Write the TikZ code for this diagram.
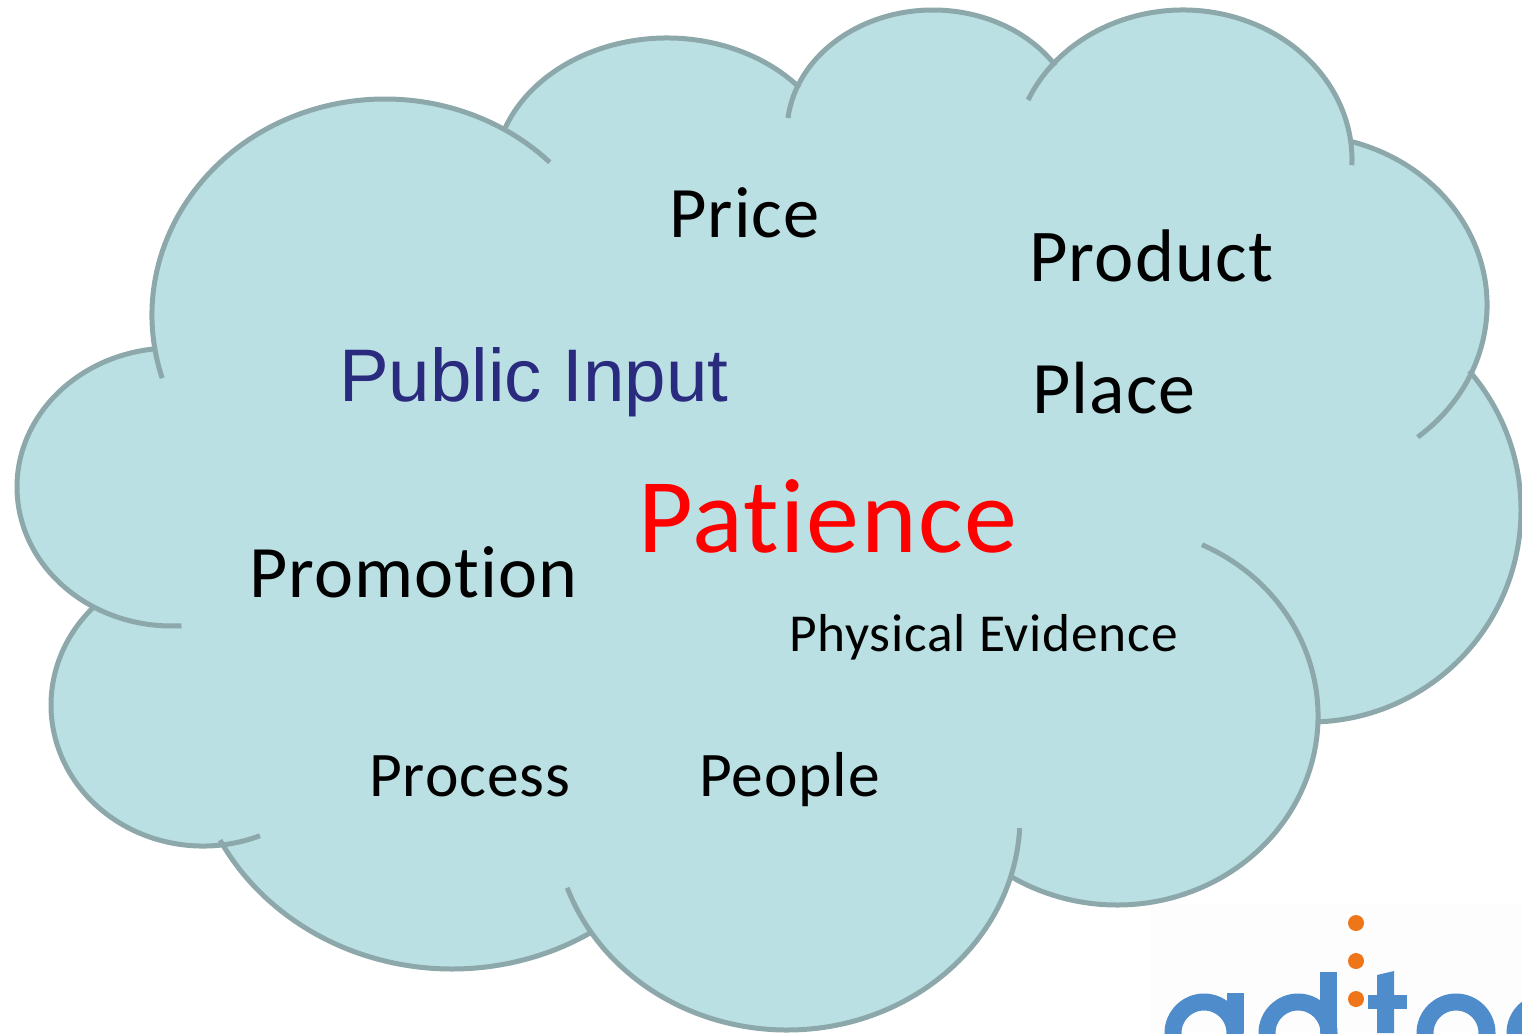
\documentclass[tikz,border=0pt]{standalone}
\usepackage{fontspec}
\setmainfont[LetterSpace=1.5,Ligatures=NoCommon]{Carlito}
\newfontfamily\arialfont{Liberation Sans}
\definecolor{cloudfill}{HTML}{BAE0E3}
\definecolor{cloudline}{HTML}{8CA8AB}
\definecolor{inputblue}{HTML}{2A2A7E}
\definecolor{logoblue}{HTML}{4F8CCB}
\definecolor{logodot}{HTML}{EE7518}
\definecolor{logoback}{HTML}{FDFDFD}
\tikzset{
  word/.style={anchor=base west,inner sep=0pt,text=black},
  lobe/.style={draw=cloudline,line width=5pt},
  logostroke/.style={draw=logoblue,line width=17pt}
}
\begin{document}
\begin{tikzpicture}[x=1pt,y=1pt,yscale=-1]
  \path[use as bounding box] (0,0) rectangle (1522,1033);
  \clip (0,0) rectangle (1522,1033);

  %% logo, cut off by the page
  \fill[logoback] (1150,905) rectangle (1522,1033);
  \begin{scope}
    \draw[logostroke] (1204,1033) circle[radius=31];
    \fill[logoblue] (1227,993) rectangle (1244,1033);
    \draw[logostroke] (1298,1033) circle[radius=31];
    \fill[logoblue] (1320,972) rectangle (1337,1033);
    \fill[logoblue] (1377,975) -- (1394,971) -- (1394,1033) -- (1377,1033) -- cycle;
    \fill[logoblue] (1368,995) rectangle (1407,1009);
    \draw[logostroke] (1456,1033) circle[radius=31];
    \draw[logostroke] (1546,1033) circle[radius=31];
    \foreach \y in {923,961,999}
      \fill[logodot] (1356,\y) circle[radius=8];
  \end{scope}

  %% cloud: one entry per lobe, centre x/centre y/x radius/y radius/start/end
  \fill[cloudfill] (400,300) -- (900,150) -- (1250,200) -- (1350,500)
    -- (1150,800) -- (700,900) -- (250,750) -- (150,500) -- cycle;
  \foreach \cx/\cy/\rx/\ry/\sa/\ea in {
      385/315/233/216/163/315,
      667/177/173/139/200.6/320,
      933/132/146/122/186.6/327,
      1183/160/169/150/203.6/362,
      1300/305/187/170/286/411,
      1310/510/211/212/319/448,
      1117/716/201/189/295/482,
      787/817/233/213/3/160.6,
      452/731/261/238/58/152.7,
      203/705/152/141/68/224,
      172/487/155/139/86.5/263}
    \fill[cloudfill] (\cx,\cy) ellipse[x radius=\rx,y radius=\ry];
  \foreach \cx/\cy/\rx/\ry/\sa/\ea in {
      385/315/233/216/163/315,
      667/177/173/139/200.6/320,
      933/132/146/122/186.6/327,
      1183/160/169/150/203.6/362,
      1300/305/187/170/286/411,
      1310/510/211/212/319/448,
      1117/716/201/189/295/482,
      787/817/233/213/3/160.6,
      452/731/261/238/58/152.7,
      203/705/152/141/68/224,
      172/487/155/139/86.5/263}
    \draw[lobe] ({\cx+\rx*cos(\sa)},{\cy+\ry*sin(\sa)}) arc[start angle=\sa,end angle=\ea,x radius=\rx,y radius=\ry];

  %% words
  \node[word] (price) at (669,237) {\fontsize{72.5}{80}\selectfont Price};
  \node[word] (product) at (1029,281) {\fontsize{74.5}{80}\selectfont Product};
  \node[word] (place) at (1032,413) {\fontsize{74}{80}\selectfont Place};
  \node[word,text=inputblue] (input) at (339,401) {\fontsize{74.5}{80}\arialfont Public Input};
  \node[word,text=red] (patience) at (638,552) {\fontsize{106}{110}\selectfont Patience};
  \node[word] (promotion) at (249,597) {\fontsize{74}{80}\selectfont Promotion};
  \node[word] (evidence) at (789,651) {\fontsize{53.4}{60}\selectfont Physical Evidence};
  \node[word] (process) at (369,796) {\fontsize{63.5}{70}\selectfont Process};
  \node[word] (people) at (699,796) {\fontsize{63.5}{70}\selectfont People};
\end{tikzpicture}
\end{document}
